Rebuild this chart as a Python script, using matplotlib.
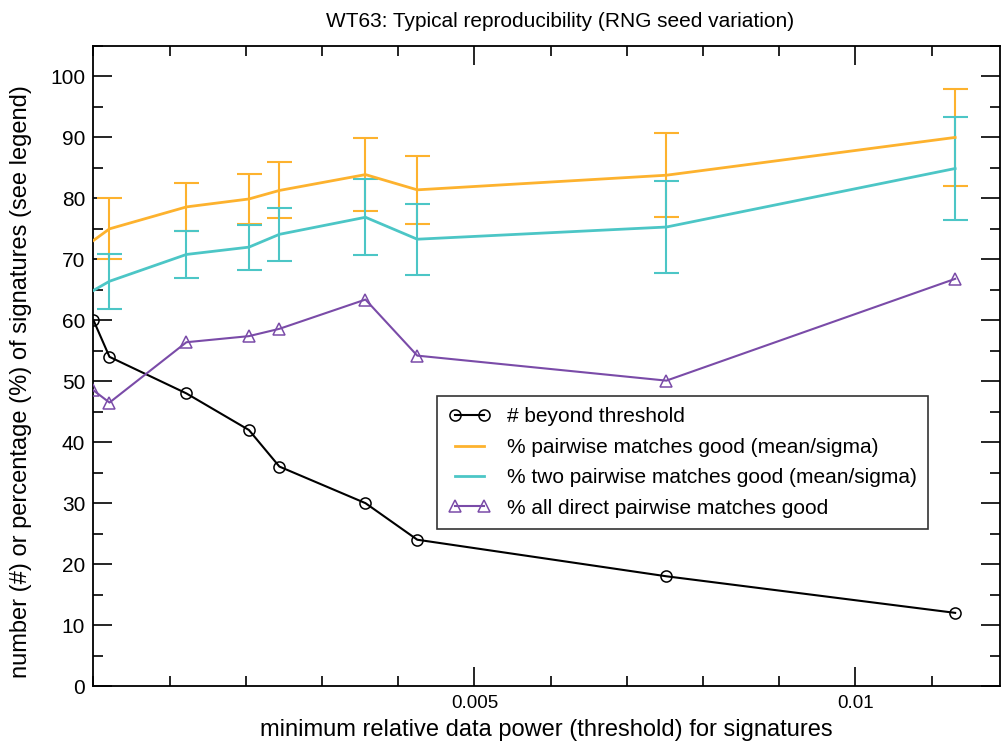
import numpy as np
import matplotlib
matplotlib.use("Agg")
import matplotlib.pyplot as plt
from matplotlib.ticker import MultipleLocator, FixedLocator

plt.rcParams["font.family"] = ["Liberation Sans", "DejaVu Sans"]

# ------------------------------------------------------------
# Data
# ------------------------------------------------------------

threshold = [0.0, 0.00021, 0.00122, 0.00204, 0.00244, 0.00357, 0.00425, 0.00752, 0.01131]

beyond = [60, 54, 48, 42, 36, 30, 24, 18, 12]

pair_mean = [73.1, 75.0, 78.6, 79.9, 81.3, 83.9, 81.4, 83.8, 90.0]
pair_sigma = [0.0, 5.0, 4.0, 4.1, 4.6, 6.0, 5.6, 6.9, 8.0]

two_mean = [64.9, 66.4, 70.8, 72.0, 74.1, 76.9, 73.3, 75.3, 84.9]
two_sigma = [0.0, 4.5, 3.8, 3.7, 4.3, 6.2, 5.8, 7.5, 8.4]

direct = [48.5, 46.5, 56.4, 57.4, 58.6, 63.4, 54.2, 50.1, 66.8]

ORANGE = "#FDB22E"
TEAL = "#4CC6C6"
PURPLE = "#7A4BA8"

# ------------------------------------------------------------
# Figure
# ------------------------------------------------------------

fig = plt.figure(figsize=(10.01, 7.49), dpi=100)
ax = fig.add_axes([0.0934, 0.0841, 0.9057, 0.8545])

ax.errorbar(threshold[1:], pair_mean[1:], yerr=pair_sigma[1:], fmt="none",
            ecolor=ORANGE, elinewidth=1.5, capsize=9, capthick=1.5, zorder=2)
ax.errorbar(threshold[1:], two_mean[1:], yerr=two_sigma[1:], fmt="none",
            ecolor=TEAL, elinewidth=1.5, capsize=9, capthick=1.5, zorder=2)

ax.plot(threshold, beyond, color="black", linewidth=1.5, marker="o",
        markersize=8, markerfacecolor="none", markeredgewidth=1.1,
        label="# beyond threshold", zorder=4)
ax.plot(threshold, pair_mean, color=ORANGE, linewidth=2,
        label="% pairwise matches good (mean/sigma)", zorder=3)
ax.plot(threshold, two_mean, color=TEAL, linewidth=2,
        label="% two pairwise matches good (mean/sigma)", zorder=3)
ax.plot(threshold, direct, color=PURPLE, linewidth=1.5, marker="^",
        markersize=8, markerfacecolor="none", markeredgewidth=1.1,
        label="% all direct pairwise matches good", zorder=4)

ax.set_xlim(0, 0.0119)
ax.set_ylim(0, 105)

ax.xaxis.set_major_locator(FixedLocator([0.005, 0.01]))
ax.xaxis.set_minor_locator(MultipleLocator(0.001))
ax.set_xticklabels(["0.005", "0.01"])
ax.yaxis.set_major_locator(MultipleLocator(10))
ax.yaxis.set_minor_locator(MultipleLocator(5))

ax.tick_params(which="both", direction="in", top=True, right=True,
               width=1.2)
ax.tick_params(which="major", length=14)
ax.tick_params(which="minor", length=7)
ax.tick_params(axis="y", pad=6, labelsize=15)
ax.tick_params(axis="x", pad=6.5, labelsize=13.5)

for spine in ax.spines.values():
    spine.set_linewidth(1.3)

ax.set_xlabel("minimum relative data power (threshold) for signatures",
              fontsize=17)
ax.xaxis.set_label_coords(0.5, -0.051)
ax.set_ylabel("number (#) or percentage (%) of signatures (see legend)",
              fontsize=17)
ax.yaxis.set_label_coords(-0.068, 0.475)
ax.set_title("WT63: Typical reproducibility (RNG seed variation)",
             fontsize=15, pad=14, x=0.515)

leg = ax.legend(loc="lower left", bbox_to_anchor=(0.379, 0.245),
                fontsize=15, numpoints=2, handlelength=2.0,
                frameon=True, fancybox=False, borderpad=0.55,
                labelspacing=0.55, handletextpad=0.8, borderaxespad=0)
leg.get_frame().set_edgecolor("black")
leg.get_frame().set_linewidth(1.2)

fig.savefig("out.png", dpi=100)
